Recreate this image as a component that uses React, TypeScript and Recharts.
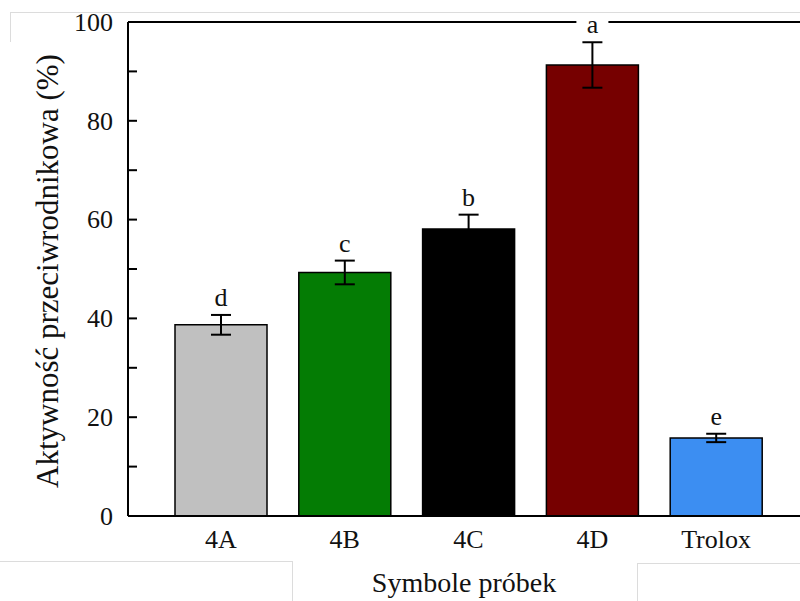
import React from "react";
import {
  BarChart,
  Bar,
  XAxis,
  YAxis,
  ErrorBar,
  Cell,
  LabelList,
  ReferenceLine,
  Label,
} from "recharts";

const samples = ["4A", "4B", "4C", "4D", "Trolox"];
const activity = [38.7, 49.3, 58.1, 91.3, 15.8];
const activityErr = [2.0, 2.4, 2.9, 4.6, 0.85];
const groups = ["d", "c", "b", "a", "e"];
const barColors = ["#c0c0c0", "#047c04", "#000000", "#760000", "#3c8ef2"];
const yTicks = [0, 10, 20, 30, 40, 50, 60, 70, 80, 90, 100];

const data = samples.map((name, i) => ({
  name,
  value: activity[i],
  err: activityErr[i],
}));

const FONT = "'Liberation Serif', 'Times New Roman', serif";

// ticks point into the plot, every 10 units; numbers only every 20
function YTick({ x, y, payload }: any) {
  const v = payload.value;
  return (
    <g>
      <line x1={x} x2={x + 9} y1={y} y2={y} stroke="#000" strokeWidth={2} />
      {v % 20 === 0 && (
        <text
          x={x - 15}
          y={y}
          dy="0.34em"
          textAnchor="end"
          fontSize={26}
          fontFamily={FONT}
          fill="#111"
        >
          {v}
        </text>
      )}
    </g>
  );
}

// significance letter above the error bar, with a white patch so it breaks the frame line
function GroupLetter(props: any) {
  const { x, y, width, height, index } = props;
  const i = index as number;
  const pxPerUnit = height / activity[i];
  const errTop = y - activityErr[i] * pxPerUnit;
  const cx = x + width / 2;
  const base = errTop - 9;
  return (
    <g>
      <rect x={cx - 16} y={base - 20} width={32} height={22} fill="#fff" />
      <text
        x={cx}
        y={base}
        textAnchor="middle"
        fontSize={26}
        fontFamily={FONT}
        fill="#111"
      >
        {groups[i]}
      </text>
    </g>
  );
}

const faint = "#dcdcdc";

export default function App() {
  return (
    <div
      style={{
        position: "absolute",
        left: 0,
        top: 0,
        width: 800,
        height: 601,
        overflow: "hidden",
        background: "#fff",
      }}
    >
      <div style={{ position: "absolute", left: 10, top: 12, width: 790, height: 0, borderTop: `1px solid ${faint}` }} />
      <div style={{ position: "absolute", left: 10, top: 12, width: 0, height: 30, borderLeft: `1px solid ${faint}` }} />
      <div style={{ position: "absolute", left: 0, top: 561, width: 292, height: 0, borderTop: `1px solid ${faint}` }} />
      <div style={{ position: "absolute", left: 292, top: 561, width: 0, height: 40, borderLeft: `1px solid ${faint}` }} />
      <div style={{ position: "absolute", left: 637, top: 563, width: 163, height: 0, borderTop: `1px solid ${faint}` }} />
      <div style={{ position: "absolute", left: 637, top: 563, width: 0, height: 38, borderLeft: `1px solid ${faint}` }} />
      <div style={{ position: "absolute", left: 0, top: 0 }}>
        <BarChart
          width={820}
          height={601}
          data={data}
          margin={{ top: 22, right: 0, bottom: 0, left: 0 }}
        >
          <XAxis
            dataKey="name"
            interval={0}
            height={85}
            padding={{ left: 31, right: 42 }}
            tickLine={false}
            tickSize={0}
            tickMargin={14}
            axisLine={{ stroke: "#000", strokeWidth: 2 }}
            tick={{ fontSize: 26, fontFamily: FONT, fill: "#111" }}
          >
            <Label
              content={() => (
                <text
                  x={464}
                  y={592}
                  textAnchor="middle"
                  fontSize={28}
                  fontFamily={FONT}
                  fill="#111"
                >
                  Symbole próbek
                </text>
              )}
            />
          </XAxis>
          <YAxis
            width={128}
            domain={[0, 100]}
            ticks={yTicks}
            interval={0}
            tickLine={false}
            tickSize={0}
            tickMargin={0}
            axisLine={{ stroke: "#000", strokeWidth: 2 }}
            tick={<YTick />}
          >
            <Label
              content={({ viewBox }: any) => {
                const cy = viewBox.y + viewBox.height / 2 + 2;
                return (
                  <text
                    x={58}
                    y={cy}
                    transform={`rotate(-90 58 ${cy})`}
                    textAnchor="middle"
                    fontSize={31}
                    fontFamily={FONT}
                    fill="#111"
                  >
                    Aktywność przeciwrodnikowa (%)
                  </text>
                );
              }}
            />
          </YAxis>
          <ReferenceLine y={100} stroke="#000" strokeWidth={2} />
          <Bar
            dataKey="value"
            barSize={92}
            stroke="#000"
            strokeWidth={1.5}
            isAnimationActive={false}
          >
            {data.map((d, i) => (
              <Cell key={d.name} fill={barColors[i]} />
            ))}
            <ErrorBar
              dataKey="err"
              direction="y"
              width={10}
              stroke="#000"
              strokeWidth={2}
              isAnimationActive={false}
            />
            <LabelList dataKey="value" content={<GroupLetter />} />
          </Bar>
        </BarChart>
      </div>
    </div>
  );
}
